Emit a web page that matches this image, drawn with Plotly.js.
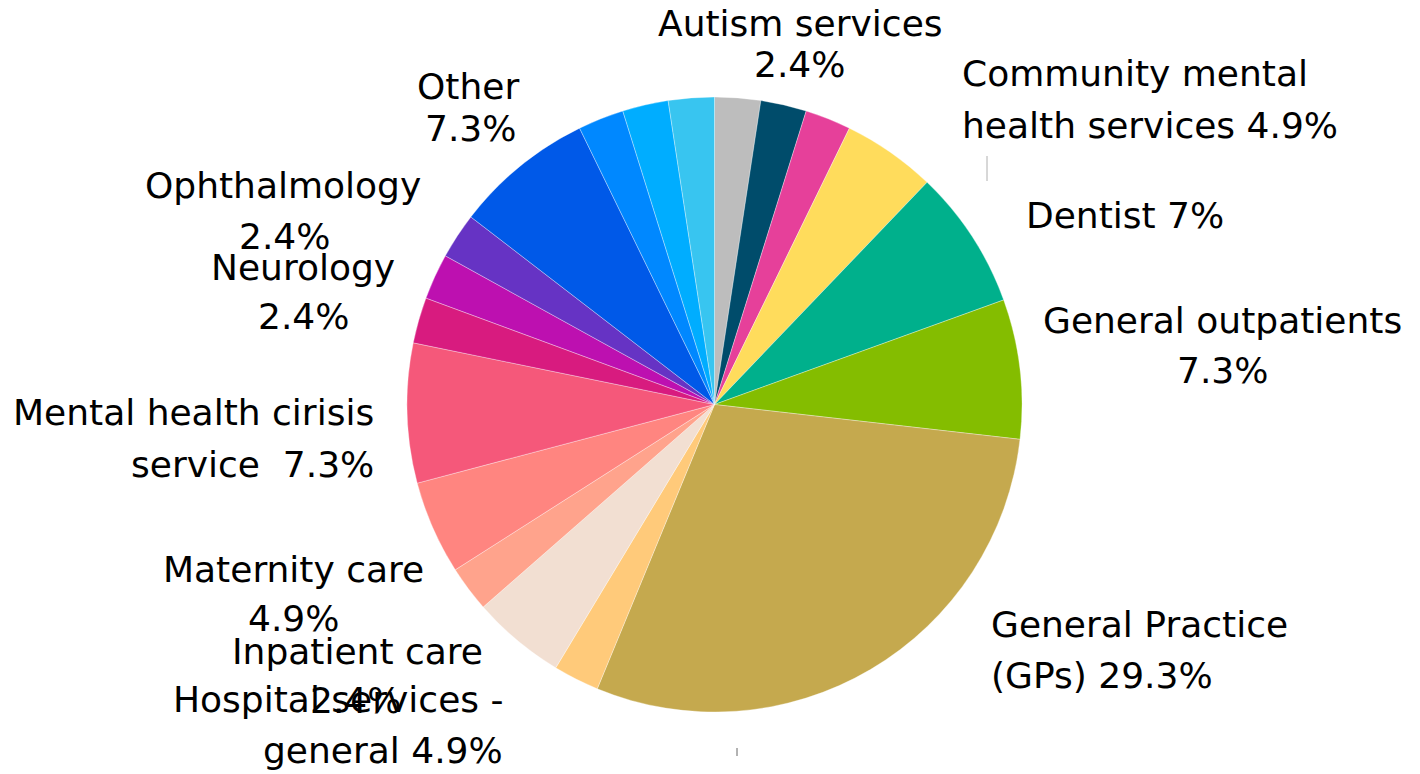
<!DOCTYPE html>
<html>
<head>
<meta charset="utf-8">
<script src="https://cdn.plot.ly/plotly-3.0.1.min.js"></script>
<style>html,body{margin:0;padding:0;background:#fff;}#chart{width:1420px;height:774px;}</style>
</head>
<body>
<div id="chart"></div>
<script>
// ---- data (clockwise from 12 o'clock) ----
const sliceNames = [
  "Autism services", "(unlabelled A)", "(unlabelled B)",
  "Community mental health services", "Dentist", "General outpatients",
  "General Practice (GPs)", "(unlabelled C)", "Hospital services - general",
  "Inpatient care", "Maternity care", "Mental health cirisis service",
  "Neurology", "(unlabelled D)", "Ophthalmology", "Other",
  "(unlabelled E)", "(unlabelled F)", "(unlabelled G)"
];
const slicePercents = [
  2.4, 2.4, 2.4,
  4.9, 7.3, 7.3,
  29.3, 2.4, 4.9,
  2.4, 4.9, 7.3,
  2.4, 2.4, 2.4, 7.3,
  2.4, 2.4, 2.4
];
// label text lines, as printed on the chart
const labelLines = [
  "Autism services", "2.4%",
  "Community mental", "health services 4.9%",
  "Dentist 7%",
  "General outpatients", "7.3%",
  "General Practice", "(GPs) 29.3%",
  "Other", "7.3%",
  "Ophthalmology", "2.4%",
  "Neurology", "2.4%",
  "Mental health cirisis", "service\u00a0 7.3%",
  "Maternity care", "4.9%",
  "Inpatient care",
  "Hospital services -",
  "2.4%",
  "general 4.9%"
];

// ---- styles / layout ----
const sliceColors = [
  "#bdbdbd", "#004c6b", "#e6409a",
  "#ffdc5c", "#00b08c", "#84bd00",
  "#c5a94e", "#ffca7a", "#f2dfd2",
  "#ffa38c", "#ff8580", "#f5587a",
  "#d81b7f", "#bd10b0", "#6633c4", "#0059e8",
  "#0088ff", "#00adff", "#38c5f0"
];
// pixel anchor [x, baseline y, anchor] for each label line
const linePos = [
  [800, 36, "center"], [799, 77, "center"],
  [960, 86, "left"], [960, 138, "left"],
  [1024, 228, "left"],
  [1222, 333, "center"], [1222, 383, "center"],
  [989, 637, "left"], [989, 688, "left"],
  [468, 99, "center"], [470, 141, "center"],
  [283, 198, "center"], [284, 249, "center"],
  [303, 280, "center"], [303, 329, "center"],
  [376, 425, "right"], [376, 477, "right"],
  [293, 582, "center"], [293, 631, "center"],
  [357, 664, "center"],
  [505, 712, "right"],
  [355, 713, "center"],
  [505, 763, "right"]
];

const W = 1420, H = 774, FS = 36;
const annotations = labelLines.map((t, i) => {
  const p = linePos[i];
  return {
    text: t, showarrow: false,
    xref: "paper", yref: "paper",
    x: p[0] / W, y: 1 - (p[1] - 0.346 * FS) / H,
    xanchor: p[2], yanchor: "middle",
    font: {family: "DejaVu Sans", size: FS, color: "#000"}
  };
});

const trace = {
  type: "pie",
  labels: sliceNames,
  values: slicePercents,
  sort: false,
  direction: "clockwise",
  rotation: 0,
  textinfo: "none",
  hoverinfo: "label+percent",
  marker: {colors: sliceColors, line: {color: "rgba(255,255,255,0.55)", width: 0.6}},
  domain: {x: [407 / W, 1022 / W], y: [1 - 712 / H, 1 - 97 / H]}
};

const layout = {
  width: W, height: H,
  margin: {l: 0, r: 0, t: 0, b: 0},
  paper_bgcolor: "#fff",
  showlegend: false,
  annotations: annotations,
  shapes: [
    {type: "line", xref: "paper", yref: "paper", x0: 987 / W, x1: 987 / W, y0: 1 - 156 / H, y1: 1 - 181 / H, line: {color: "#b0b0b0", width: 1}},
    {type: "line", xref: "paper", yref: "paper", x0: 737 / W, x1: 737 / W, y0: 1 - 748 / H, y1: 1 - 756 / H, line: {color: "#666", width: 1}}
  ]
};

Plotly.newPlot("chart", [trace], layout, {staticPlot: true, displayModeBar: false});
</script>
</body>
</html>
